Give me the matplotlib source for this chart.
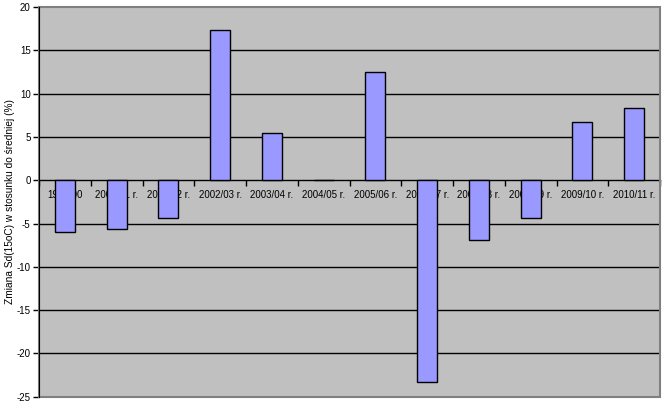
import matplotlib
matplotlib.use("Agg")
import matplotlib.pyplot as plt
from matplotlib.patches import Rectangle
import numpy as np

categories = ["1999/00", "2000/01 r.", "2001/02 r.", "2002/03 r.", "2003/04 r.", "2004/05 r.",
              "2005/06 r.", "2006/07 r.", "2007/08 r.", "2008/09 r.", "2009/10 r.", "2010/11 r."]
values = [-6.0, -5.65, -4.4, 17.4, 5.4, 0.0, 12.5, -23.3, -6.9, -4.4, 6.7, 8.3]
yticks = [-25, -20, -15, -10, -5, 0, 5, 10, 15, 20]
ylabel = "Zmiana Sd(15oC) w stosunku do średniej (%)"

plt.rcParams['font.family'] = ['Liberation Sans', 'DejaVu Sans']

fig = plt.figure(figsize=(6.66, 4.05), dpi=100)
ax = fig.add_axes([39/666, 8.3/405, 621/666, 389.7/405])
ax.set_facecolor('#C0C0C0')

x = np.arange(len(categories))
ax.bar(x, values, width=0.39, color='#9999FF', edgecolor='black', linewidth=1, zorder=3)

ax.set_xlim(-0.5, len(categories) - 0.5)
ax.set_ylim(-25, 20)
ax.set_yticks(yticks)
ax.set_yticklabels([str(v) for v in yticks], fontsize=7)
ax.tick_params(axis='y', length=4, width=1, direction='out', pad=2)

for v in yticks[1:-1]:
    if v != 0:
        ax.axhline(v, color='black', linewidth=1, zorder=1)

# category axis at zero
ax.spines['bottom'].set_position(('data', 0))
ax.spines['bottom'].set_color('black')
ax.spines['bottom'].set_linewidth(1)
ax.set_xticks(x)
ax.set_xticklabels(categories, fontsize=7)
ax.set_xticks(np.arange(len(categories) + 1) - 0.5, minor=True)
ax.tick_params(axis='x', which='major', length=0, pad=7)
ax.tick_params(axis='x', which='minor', length=4, width=1, direction='out')

ax.spines['top'].set_visible(False)
ax.spines['right'].set_visible(False)
ax.spines['left'].set_color('black')
ax.spines['left'].set_zorder(6)

frame = Rectangle((0, 0), 1, 1, transform=ax.transAxes, fill=False,
                  edgecolor='#808080', linewidth=1.5, zorder=5, clip_on=False)
ax.add_patch(frame)

ax.set_ylabel(ylabel, fontsize=7.3, labelpad=1)

fig.savefig('out.png', dpi=100)
